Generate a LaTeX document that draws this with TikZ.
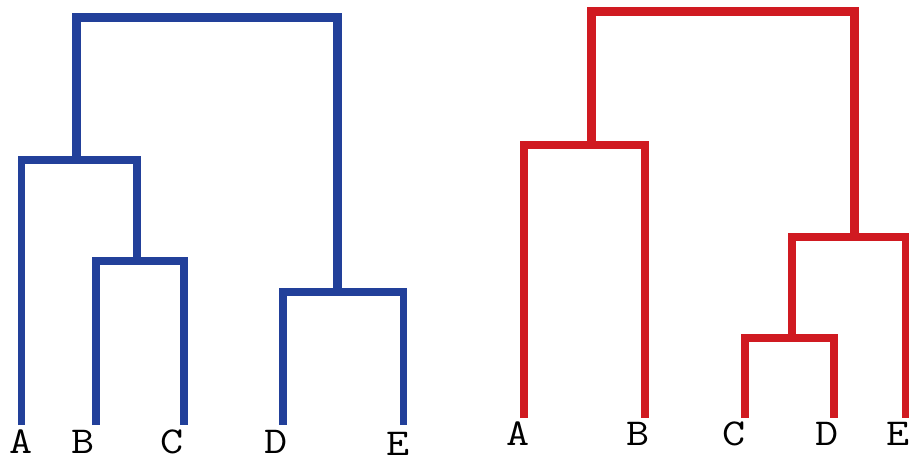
\documentclass[tikz,border=0pt]{standalone}
\definecolor{dblue}{RGB}{34,64,154}
\definecolor{dred}{RGB}{208,26,33}
\newcommand{\wide}[1]{\scalebox{1.18}[1]{#1}}
\begin{document}
\begin{tikzpicture}[x=1pt,y=-1pt,
  branch/.style={line width=7.4pt,line join=miter,line cap=butt},
  rootbar/.style={line width=9pt,line join=miter,line cap=butt},
  lab/.style={anchor=base,inner sep=0pt,font=\ttfamily\fontsize{38}{38}\selectfont,text=black}]
\useasboundingbox (0,0) rectangle (909,458);
% ---------- blue dendrogram ----------
\node[lab] (bA) at (21,453) {\wide{A}};
\node[lab] (bB) at (83,453) {\wide{B}};
\node[lab] (bC) at (172,453) {\wide{C}};
\node[lab] (bD) at (276,453) {\wide{D}};
\node[lab] (bE) at (398,455) {\wide{E}};
\coordinate (ba) at (21.5,425);
\coordinate (bb) at (96,425);
\coordinate (bc) at (184,425);
\coordinate (bd) at (283,425);
\coordinate (be) at (403.5,425);
\coordinate (bBC) at (137,261);
\coordinate (bABC) at (76,160);
\coordinate (bDE) at (337,292);
\draw[branch,dblue] (bb) |- (bBC) -| (bc);
\draw[branch,dblue] (ba) |- (bABC) -| (bBC);
\draw[branch,dblue] (bd) |- (bDE) -| (be);
\draw[rootbar,dblue] (bABC) |- (206,17.5) -| (bDE);
% ---------- red dendrogram ----------
\node[lab] (rA) at (518,445) {\wide{A}};
\node[lab] (rB) at (638,445) {\wide{B}};
\node[lab] (rC) at (734,445) {\wide{C}};
\node[lab] (rD) at (827,445) {\wide{D}};
\node[lab] (rE) at (898,445) {\wide{E}};
\coordinate (ra) at (524,418);
\coordinate (rb) at (645,418);
\coordinate (rc) at (745,418);
\coordinate (rd) at (834,418);
\coordinate (re) at (906,418);
\coordinate (rAB) at (591,145);
\coordinate (rCD) at (792,338);
\coordinate (rCDE) at (854,237);
\draw[branch,dred] (ra) |- (rAB) -| (rb);
\draw[branch,dred] (rc) |- (rCD) -| (rd);
\draw[branch,dred] (rCD) |- (rCDE) -| (re);
\draw[rootbar,dred] (rAB) |- (720,11.5) -| (rCDE);
\end{tikzpicture}
\end{document}
